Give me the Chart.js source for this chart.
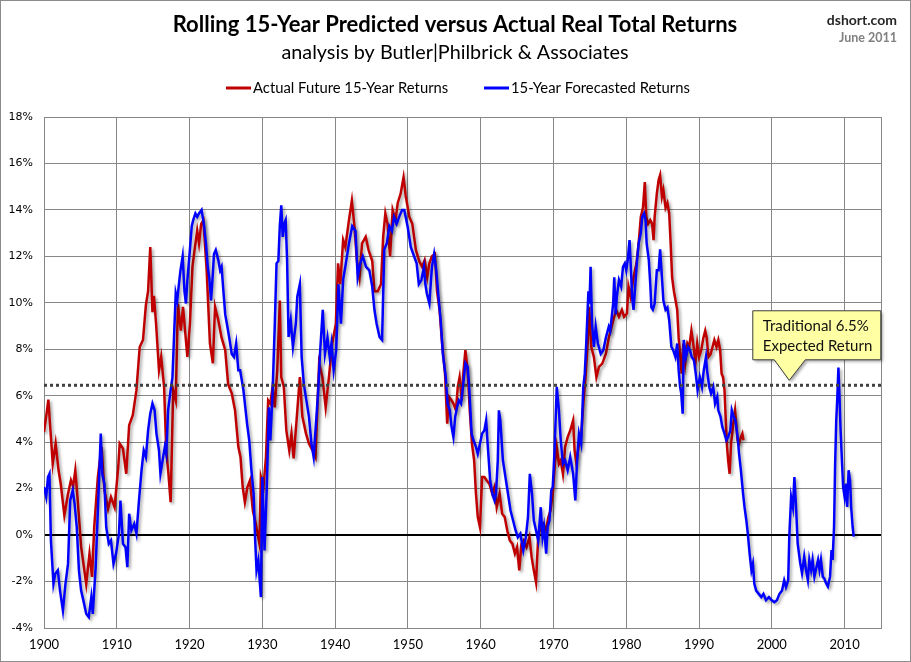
<!DOCTYPE html>
<html>
<head>
<meta charset="utf-8">
<script src="https://cdn.jsdelivr.net/npm/chart.js@4"></script>
<style>
  html, body { margin: 0; padding: 0; background: #fff; }
  #wrap { width: 911px; height: 662px; }
</style>
</head>
<body>
<div id="wrap"><canvas id="returnsChart" width="911" height="662"></canvas></div>
<script>
// Rolling 15-year real total returns, in percent
const actualYears = [
  1900.0, 1900.3, 1900.6, 1900.8, 1901.0, 1901.2, 1901.6, 1902.0, 1902.3, 1902.8,
  1903.3, 1903.7, 1904.0, 1904.3, 1904.6, 1905.1, 1905.8, 1906.25, 1906.6, 1906.9,
  1907.4, 1907.9, 1908.3, 1908.8, 1909.2, 1909.7, 1910.2, 1910.4, 1910.85, 1911.3,
  1911.7, 1912.2, 1912.7, 1913.15, 1913.6, 1914.0, 1914.3, 1914.6, 1914.9, 1915.1,
  1915.4, 1915.8, 1916.1, 1916.5, 1916.8, 1917.1, 1917.4, 1917.75, 1918.1, 1918.4,
  1918.8, 1919.1, 1919.7, 1920.05, 1920.4, 1920.7, 1921.05, 1921.3, 1921.6, 1921.9,
  1922.35, 1922.8, 1923.2, 1923.5, 1923.95, 1924.4, 1924.9, 1925.3, 1925.8, 1926.25,
  1926.7, 1927.0, 1927.3, 1927.6, 1927.95, 1928.3, 1928.7, 1929.1, 1929.6, 1929.8,
  1930.15, 1930.5, 1930.8, 1931.1, 1931.4, 1931.7, 1932.05, 1932.4, 1932.6, 1932.95,
  1933.3, 1933.7, 1934.0, 1934.3, 1934.7, 1935.15, 1935.5, 1936.0, 1936.4, 1936.9,
  1937.3, 1937.8, 1938.25, 1938.7, 1939.15, 1939.6, 1940.1, 1940.4, 1940.7, 1941.1,
  1941.4, 1941.9, 1942.3, 1942.65, 1943.0, 1943.35, 1943.7, 1944.2, 1944.6, 1945.1,
  1945.4, 1945.85, 1946.3, 1946.6, 1946.9, 1947.2, 1947.55, 1947.9, 1948.3, 1948.6,
  1949.0, 1949.4, 1949.7, 1950.2, 1950.6, 1951.1, 1951.55, 1951.95, 1952.3, 1952.65,
  1952.95, 1953.3, 1953.7, 1954.0, 1954.35, 1954.7, 1955.1, 1955.4, 1955.65, 1956.0,
  1956.25, 1956.6, 1956.85, 1957.1, 1957.4, 1957.65, 1957.9, 1958.2, 1958.5, 1958.8,
  1959.1, 1959.35, 1959.6, 1959.9, 1960.2, 1960.5, 1960.8, 1961.2, 1961.6, 1961.9,
  1962.2, 1962.6, 1962.95, 1963.3, 1963.65, 1964.0, 1964.35, 1964.7, 1965.0, 1965.3,
  1965.6, 1965.9, 1966.3, 1966.7, 1967.0, 1967.3, 1967.6, 1967.9, 1968.2, 1968.6,
  1968.95, 1969.3, 1969.6, 1969.9, 1970.2, 1970.45, 1970.75, 1971.0, 1971.3, 1971.6,
  1971.95, 1972.3, 1972.7, 1972.9, 1973.15, 1973.5, 1973.8, 1974.1, 1974.4, 1974.7,
  1974.9, 1975.2, 1975.55, 1975.9, 1976.25, 1976.7, 1977.2, 1977.6, 1978.1, 1978.6,
  1979.0, 1979.4, 1979.7, 1980.1, 1980.3, 1980.6, 1981.0, 1981.4, 1981.7, 1982.0,
  1982.3, 1982.55, 1982.75, 1983.0, 1983.3, 1983.55, 1983.75, 1983.9, 1984.2, 1984.45,
  1984.65, 1984.9, 1985.1, 1985.4, 1985.65, 1985.9, 1986.1, 1986.3, 1986.55, 1986.85,
  1987.0, 1987.2, 1987.4, 1987.6, 1987.85, 1988.1, 1988.4, 1988.65, 1988.95, 1989.2,
  1989.5, 1989.75, 1990.0, 1990.3, 1990.6, 1990.85, 1991.05, 1991.3, 1991.6, 1991.85,
  1992.1, 1992.4, 1992.65, 1992.9, 1993.1, 1993.3, 1993.5, 1993.65, 1993.85, 1994.0,
  1994.2, 1994.4, 1994.6, 1994.75, 1994.95, 1995.1, 1995.3, 1995.5, 1995.75, 1995.95,
  1996.1
];
const actualReturns = [
  4.44, 5.1, 5.83, 4.9, 4.0, 3.07, 3.94, 2.79, 2.2, 0.85,
  1.78, 2.36, 2.1, 2.79, 1.64, -0.5, -2.1, -0.8, -1.8, 0.34,
  2.5, 3.8, 1.93, 1.13, 1.64, 1.2, 2.93, 3.94, 3.72, 2.64,
  4.73, 5.16, 6.24, 8.1, 8.4, 9.9, 10.5, 12.4, 9.6, 10.3,
  9.1, 7.1, 7.67, 6.38, 3.65, 2.64, 1.42, 6.24, 5.8, 9.97,
  8.8, 9.83, 7.67, 9.1, 11.55, 12.3, 13.1, 12.56, 13.4, 13.56,
  11.4, 8.25, 7.4, 9.83, 9.25, 8.5, 7.96, 6.5, 6.1, 5.37,
  3.8, 3.36, 2.07, 1.42, 2.07, 2.36, 1.06, 0.49, -0.37, 2.5,
  2.07, 3.36, 5.8, 5.66, 6.38, 5.5, 7.1, 10.1, 6.8, 6.38,
  4.5, 3.65, 4.37, 3.3, 4.94, 6.8, 5.1, 4.37, 3.94, 3.65,
  3.36, 7.4, 6.8, 5.5, 6.8, 8.25, 9.1, 11.7, 10.8, 12.7,
  12.4, 13.56, 14.4, 13.3, 11.8, 11.1, 12.56, 12.84, 12.27, 11.8,
  10.5, 10.5, 10.8, 12.84, 13.85, 13.4, 12.0, 14.0, 13.56, 14.3,
  14.7, 15.4, 14.6, 13.7, 13.4, 12.27, 11.8, 11.55, 11.84, 11.1,
  11.7, 12.0, 12.1, 10.5, 9.7, 8.25, 6.95, 4.8, 5.95, 5.8,
  5.66, 5.37, 6.38, 6.8, 5.8, 7.1, 7.96, 7.1, 5.37, 3.94,
  3.22, 1.78, 0.78, 0.34, 2.5, 2.5, 2.36, 2.2, 1.78, 2.07,
  1.2, 1.78, 0.92, 0.78, 0.2, -0.23, -0.37, -0.8, -0.52, -1.52,
  -0.37, -0.23, -0.52, -0.09, -0.95, -1.52, -2.03, -0.09, 0.34, 0.49,
  0.2, 0.78, 1.06, 1.78, 3.07, 3.8, 3.07, 3.22, 2.64, 3.8,
  4.22, 4.5, 4.94, 3.65, 3.07, 3.94, 4.22, 5.66, 6.8, 8.25,
  9.83, 8.1, 7.67, 6.8, 7.24, 7.38, 7.8, 8.5, 9.1, 9.7,
  9.4, 9.7, 9.4, 9.54, 10.7, 10.26, 11.1, 11.7, 12.56, 13.7,
  14.1, 15.2, 13.7, 13.4, 13.56, 13.4, 12.7, 13.7, 14.7, 15.3,
  15.5, 14.57, 14.86, 14.1, 14.3, 13.85, 12.56, 11.1, 10.5, 9.97,
  9.7, 8.5, 7.8, 6.95, 8.25, 7.4, 8.25, 8.1, 8.8, 8.25,
  7.4, 8.25, 7.67, 7.96, 8.5, 8.8, 8.5, 7.67, 7.8, 8.1,
  8.4, 8.1, 8.4, 7.96, 6.95, 6.8, 6.24, 5.1, 3.8, 3.22,
  2.64, 3.94, 4.5, 4.94, 5.37, 4.8, 4.08, 3.94, 4.22, 4.37,
  4.08
];

const forecastYears = [
  1900.0, 1900.3, 1900.55, 1900.75, 1900.95, 1901.3, 1901.55, 1901.9, 1902.2, 1902.6,
  1902.95, 1903.3, 1903.6, 1903.95, 1904.2, 1904.5, 1904.8, 1905.1, 1905.4, 1905.8,
  1906.15, 1906.5, 1906.7, 1907.1, 1907.4, 1907.8, 1908.0, 1908.3, 1908.55, 1908.9,
  1909.2, 1909.55, 1909.9, 1910.3, 1910.5, 1910.85, 1911.2, 1911.45, 1911.7, 1912.0,
  1912.4, 1912.7, 1913.05, 1913.4, 1913.7, 1914.0, 1914.3, 1914.6, 1914.9, 1915.2,
  1915.45, 1915.8, 1916.0, 1916.3, 1916.6, 1916.8, 1917.05, 1917.4, 1917.65, 1917.9,
  1918.1, 1918.3, 1918.6, 1918.75, 1919.05, 1919.3, 1919.5, 1919.7, 1920.05, 1920.3,
  1920.5, 1920.8, 1921.05, 1921.3, 1921.65, 1922.0, 1922.25, 1922.5, 1922.7, 1922.95,
  1923.2, 1923.35, 1923.6, 1923.95, 1924.2, 1924.4, 1924.65, 1924.9, 1925.2, 1925.5,
  1925.8, 1926.1, 1926.4, 1926.7, 1926.95, 1927.4, 1927.9, 1928.2, 1928.5, 1928.8,
  1929.0, 1929.2, 1929.45, 1929.8, 1930.0, 1930.3, 1930.6, 1930.9, 1931.1, 1931.4,
  1931.7, 1931.95, 1932.2, 1932.4, 1932.6, 1932.8, 1933.0, 1933.2, 1933.4, 1933.6,
  1933.9, 1934.2, 1934.6, 1934.8, 1935.15, 1935.4, 1935.7, 1936.05, 1936.4, 1936.75,
  1937.05, 1937.3, 1937.65, 1937.95, 1938.3, 1938.6, 1938.95, 1939.25, 1939.5, 1939.8,
  1940.15, 1940.45, 1940.8, 1941.1, 1941.4, 1941.9, 1942.35, 1942.8, 1943.1, 1943.45,
  1943.8, 1944.25, 1944.7, 1945.1, 1945.4, 1945.7, 1946.1, 1946.45, 1946.75, 1947.1,
  1947.45, 1947.8, 1948.1, 1948.45, 1948.8, 1949.2, 1949.5, 1949.95, 1950.4, 1950.85,
  1951.2, 1951.5, 1951.85, 1952.2, 1952.4, 1952.6, 1952.95, 1953.3, 1953.6, 1953.9,
  1954.2, 1954.5, 1954.8, 1955.2, 1955.45, 1955.75, 1956.0, 1956.25, 1956.5, 1956.75,
  1957.0, 1957.3, 1957.6, 1957.9, 1958.2, 1958.4, 1958.75, 1959.0, 1959.35, 1959.6,
  1959.9, 1960.2, 1960.5, 1960.75, 1960.95, 1961.3, 1961.6, 1961.9, 1962.1, 1962.35,
  1962.5, 1962.7, 1963.05, 1963.4, 1963.75, 1964.1, 1964.45, 1964.8, 1965.1, 1965.45,
  1965.85, 1966.2, 1966.5, 1966.75, 1967.05, 1967.3, 1967.6, 1967.9, 1968.25, 1968.5,
  1968.7, 1969.0, 1969.2, 1969.45, 1969.7, 1969.9, 1970.15, 1970.45, 1970.75, 1971.0,
  1971.3, 1971.6, 1971.95, 1972.3, 1972.7, 1973.0, 1973.25, 1973.5, 1973.8, 1974.1,
  1974.3, 1974.5, 1974.8, 1974.95, 1975.1, 1975.3, 1975.55, 1975.8, 1976.1, 1976.5,
  1976.85, 1977.2, 1977.6, 1977.8, 1978.2, 1978.35, 1978.55, 1978.7, 1979.0, 1979.3,
  1979.55, 1979.8, 1980.0, 1980.2, 1980.45, 1980.65, 1980.8, 1981.0, 1981.25, 1981.45,
  1981.7, 1982.0, 1982.2, 1982.45, 1982.65, 1982.8, 1983.1, 1983.3, 1983.45, 1983.65,
  1983.9, 1984.2, 1984.45, 1984.65, 1984.9, 1985.1, 1985.4, 1985.65, 1985.9, 1986.2,
  1986.45, 1986.75, 1987.0, 1987.2, 1987.4, 1987.55, 1987.75, 1987.9, 1988.2, 1988.5,
  1988.75, 1989.0, 1989.3, 1989.55, 1989.8, 1990.1, 1990.4, 1990.65, 1990.95, 1991.1,
  1991.4, 1991.65, 1991.95, 1992.2, 1992.5, 1992.65, 1992.95, 1993.2, 1993.5, 1993.75,
  1994.0, 1994.3, 1994.5, 1994.75, 1995.0, 1995.3, 1995.5, 1995.75, 1996.05, 1996.25,
  1996.5, 1996.7, 1996.95, 1997.2, 1997.4, 1997.6, 1997.85, 1998.2, 1998.55, 1998.85,
  1999.2, 1999.6, 1999.95, 2000.35, 2000.7, 2001.05, 2001.4, 2001.7, 2001.95, 2002.25,
  2002.4, 2002.65, 2002.9, 2003.1, 2003.35, 2003.55, 2003.9, 2004.15, 2004.45, 2004.7,
  2004.95, 2005.15, 2005.4, 2005.6, 2005.85, 2006.05, 2006.35, 2006.55, 2006.75, 2007.0,
  2007.2, 2007.45, 2007.7, 2008.0, 2008.2, 2008.35, 2008.55, 2008.7, 2008.85, 2009.0,
  2009.15, 2009.3, 2009.45, 2009.65, 2009.8, 2010.0, 2010.2, 2010.35, 2010.55, 2010.75,
  2010.9, 2011.1, 2011.25
];
const forecastReturns = [
  2.07, 1.64, 2.5, 2.64, -0.23, -2.1, -1.67, -1.52, -2.39, -3.25,
  -2.1, -1.24, 1.49, 1.93, 1.35, 0.34, -1.52, -2.39, -2.8, -3.39,
  -3.53, -2.67, -3.39, -1.38, 1.06, 4.37, 2.64, 2.2, 0.34, -0.37,
  -0.23, -1.24, -0.8, 0.06, 1.49, -0.37, -0.52, -1.38, 0.92, 0.2,
  0.49, 0.06, 1.49, 2.79, 3.65, 3.36, 4.5, 5.23, 5.66, 5.37,
  4.37, 3.65, 2.64, 3.22, 3.8, 3.5, 5.37, 6.24, 6.8, 8.8,
  10.4, 10.1, 10.98, 11.4, 12.0, 10.5, 9.97, 10.98, 12.3, 13.3,
  13.56, 13.85, 13.7, 13.85, 14.0, 13.3, 12.56, 11.55, 11.1, 10.1,
  11.26, 12.1, 12.27, 11.84, 11.4, 11.55, 10.5, 9.5, 8.97, 8.4,
  7.8, 7.67, 8.25, 7.1, 7.1, 6.24, 4.8, 4.08, 2.79, 1.78,
  -0.09, -1.52, -1.09, -2.67, 2.5, -0.66, 1.93, 5.5, 4.08, 6.1,
  8.97, 11.7, 11.8, 13.3, 14.2, 12.84, 13.4, 13.56, 11.84, 8.53,
  9.25, 8.1, 9.1, 10.26, 10.8, 7.67, 6.5, 5.8, 5.1, 3.94,
  3.36, 4.5, 6.1, 7.96, 9.7, 7.8, 8.5, 7.67, 8.25, 7.1,
  7.96, 10.8, 9.1, 11.0, 11.55, 12.56, 13.3, 13.1, 11.1, 11.7,
  12.0, 11.55, 11.4, 10.7, 9.7, 9.1, 8.53, 8.4, 12.3, 12.56,
  13.3, 13.1, 13.7, 13.4, 13.7, 14.0, 14.0, 13.3, 12.4, 12.0,
  11.7, 10.8, 10.98, 11.55, 10.8, 10.4, 9.97, 11.55, 12.1, 11.4,
  10.26, 9.25, 7.8, 6.8, 5.66, 5.37, 4.66, 4.22, 5.1, 5.5,
  5.8, 5.66, 6.5, 7.4, 7.24, 6.5, 4.37, 4.08, 3.8, 3.5,
  3.94, 4.37, 4.5, 4.94, 3.94, 2.36, 1.78, 1.49, 1.78, 3.22,
  5.37, 4.94, 3.22, 2.5, 1.78, 1.06, 0.63, 0.2, -0.09, 0.06,
  -0.66, -0.09, 0.78, 2.64, 1.78, 0.63, 0.2, -0.23, 1.2, -0.09,
  0.34, -0.8, 0.34, 0.63, 1.93, 2.07, 3.65, 6.38, 5.37, 4.08,
  3.07, 3.22, 2.79, 3.36, 2.64, 1.49, 3.22, 4.37, 3.94, 6.38,
  6.95, 8.25, 10.5, 9.97, 11.55, 9.1, 8.1, 8.97, 8.25, 7.8,
  7.96, 8.5, 8.97, 8.8, 9.97, 11.1, 9.5, 10.26, 10.98, 10.7,
  11.55, 11.7, 11.4, 11.84, 12.7, 11.4, 10.26, 9.7, 10.8, 11.7,
  12.56, 13.0, 13.7, 13.85, 13.56, 12.56, 11.84, 10.8, 9.8, 9.7,
  9.97, 11.4, 11.4, 12.3, 11.1, 10.1, 9.7, 9.8, 9.25, 8.1,
  7.96, 7.67, 8.25, 7.1, 6.38, 6.1, 5.23, 8.4, 7.67, 8.1,
  7.96, 7.67, 7.53, 6.95, 6.24, 6.8, 6.38, 7.1, 7.67, 7.1,
  6.38, 6.1, 6.38, 5.66, 5.95, 5.37, 5.1, 4.66, 4.37, 4.08,
  4.22, 4.5, 5.37, 5.1, 4.94, 4.22, 3.5, 2.79, 1.78, 1.2,
  0.63, 0.06, -0.8, -1.52, -1.24, -2.1, -2.39, -2.53, -2.67, -2.53,
  -2.8, -2.67, -2.8, -2.89, -2.8, -2.53, -2.39, -1.95, -2.24, -1.95,
  -0.07, 1.64, 1.2, 2.5, 1.07, -0.36, -1.2, -1.64, -0.93, -1.5,
  -1.93, -1.07, -1.5, -1.07, -1.79, -1.5, -1.07, -1.5, -1.07, -1.79,
  -1.86, -2.07, -2.21, -1.79, -0.64, -1.07, 0.36, 3.07, 4.93, 5.93,
  7.21, 5.93, 4.5, 3.07, 2.07, 1.64, 2.21, 1.21, 2.79, 2.36,
  1.21, 0.36, -0.07
];

const traditionalReturn = 6.45;
const xTickYears = [1900, 1910, 1920, 1930, 1940, 1950, 1960, 1970, 1980, 1990, 2000, 2010];
const yTickValues = [-4, -2, 0, 2, 4, 6, 8, 10, 12, 14, 16, 18];
const xRange = [1900, 2015];

const titleText = 'Rolling 15-Year Predicted versus Actual Real Total Returns';
const subtitleText = 'analysis by Butler|Philbrick & Associates';
const sourceText = 'dshort.com';
const dateText = 'June 2011';
const calloutLines = ['Traditional 6.5%', 'Expected Return'];

const actualColor = '#C00000';
const forecastColor = '#0000FF';
const gridColor = '#878787';
const calibriLike = 'Lato, "Open Sans", sans-serif';

const toPoints = (xs, ys) => xs.map((x, i) => ({ x: x, y: ys[i] }));

// soft drop shadow under the two return lines, like the original
const lineShadow = {
    id: 'lineShadow',
    beforeDatasetDraw(chart, args) {
        const ds = chart.data.datasets[args.index];
        const ctx = chart.ctx;
        ctx.save();
        if (ds.shadow) {
            ctx.shadowColor = 'rgba(0, 0, 0, 0.35)';
            ctx.shadowBlur = 3;
            ctx.shadowOffsetX = 2;
            ctx.shadowOffsetY = 2;
        }
    },
    afterDatasetDraw(chart) {
        chart.ctx.restore();
    }
};

const decorations = {
    id: 'decorations',
    beforeDraw(chart) {
        const ctx = chart.ctx;
        ctx.save();
        ctx.fillStyle = '#fff';
        ctx.fillRect(0, 0, chart.width, chart.height);
        ctx.restore();
    },
    beforeDatasetsDraw(chart) {
        const { ctx, chartArea: a } = chart;
        ctx.save();
        ctx.strokeStyle = gridColor;
        ctx.lineWidth = 1;
        ctx.strokeRect(Math.round(a.left) + 0.5, Math.round(a.top) + 0.5,
            Math.round(a.right - a.left), Math.round(a.bottom - a.top));
        ctx.restore();
    },
    afterDraw(chart) {
        const ctx = chart.ctx;
        const w = chart.width;
        ctx.save();

        // outer frame
        ctx.strokeStyle = '#8c8c8c';
        ctx.lineWidth = 1;
        ctx.strokeRect(0.5, 0.5, w - 1, chart.height - 1);

        // header
        ctx.textBaseline = 'middle';
        ctx.textAlign = 'center';
        ctx.fillStyle = '#000';
        ctx.font = 'bold 22px ' + calibriLike;
        ctx.fillText(titleText, 455, 25);
        ctx.font = '19.8px ' + calibriLike;
        ctx.fillText(subtitleText, 455, 53);

        ctx.textAlign = 'right';
        ctx.font = 'bold 14px ' + calibriLike;
        ctx.fillStyle = '#262626';
        ctx.fillText(sourceText, 897, 20);
        ctx.font = 'bold 12.5px ' + calibriLike;
        ctx.fillStyle = '#808080';
        ctx.fillText(dateText, 897, 38);

        // legend
        ctx.textAlign = 'left';
        ctx.font = '14.8px ' + calibriLike;
        const legendItems = [
            { color: actualColor, label: chart.data.datasets[0].label, x: 226 },
            { color: forecastColor, label: chart.data.datasets[1].label, x: 484 }
        ];
        legendItems.forEach(item => {
            ctx.strokeStyle = item.color;
            ctx.lineWidth = 3;
            ctx.beginPath();
            ctx.moveTo(item.x, 88);
            ctx.lineTo(item.x + 25, 88);
            ctx.stroke();
            ctx.fillStyle = '#000';
            ctx.fillText(item.label, item.x + 27, 88);
        });

        // callout pointing at the 6.5% line
        const xs = chart.scales.x, ys = chart.scales.y;
        const tipX = xs.getPixelForValue(2002.4);
        const tipY = ys.getPixelForValue(traditionalReturn) - 5;
        const boxL = tipX - 36.5, boxR = tipX + 91.5;
        const boxT = tipY - 69.5, boxB = tipY - 20.5;
        const shape = () => {
            ctx.beginPath();
            ctx.moveTo(boxL, boxT);
            ctx.lineTo(boxR, boxT);
            ctx.lineTo(boxR, boxB);
            ctx.lineTo(tipX + 16, boxB);
            ctx.lineTo(tipX, tipY);
            ctx.lineTo(tipX - 15, boxB);
            ctx.lineTo(boxL, boxB);
            ctx.closePath();
        };
        ctx.save();
        ctx.shadowColor = 'rgba(0, 0, 0, 0.35)';
        ctx.shadowBlur = 3;
        ctx.shadowOffsetX = 2;
        ctx.shadowOffsetY = 2;
        ctx.fillStyle = '#FFFFA3';
        shape();
        ctx.fill();
        ctx.restore();
        ctx.strokeStyle = '#3f3f3f';
        ctx.lineWidth = 1;
        shape();
        ctx.stroke();
        ctx.fillStyle = '#111';
        ctx.font = '15px ' + calibriLike;
        ctx.textAlign = 'left';
        ctx.fillText(calloutLines[0], boxL + 10, boxT + 15);
        ctx.fillText(calloutLines[1], boxL + 10, boxT + 35);

        ctx.restore();
    }
};

const ctx = document.getElementById('returnsChart').getContext('2d');
const returnsChart = new Chart(ctx, {
    type: 'line',
    data: {
        datasets: [
            { label: 'Actual Future 15-Year Returns', data: toPoints(actualYears, actualReturns), borderColor: actualColor, borderWidth: 2.5, pointRadius: 0, tension: 0, order: 2, shadow: true },
            { label: '15-Year Forecasted Returns', data: toPoints(forecastYears, forecastReturns), borderColor: forecastColor, borderWidth: 2.5, pointRadius: 0, tension: 0, order: 1, shadow: true },
            { label: 'Traditional 6.5% Expected Return', data: toPoints(xRange, [traditionalReturn, traditionalReturn]), borderColor: '#404040', borderWidth: 3, borderDash: [3, 3], borderCapStyle: 'butt', pointRadius: 0, order: 0 }
        ]
    },
    options: {
        responsive: false,
        animation: false,
        layout: { padding: { top: 117, right: 30, bottom: 0, left: 0 } },
        plugins: {
            legend: { display: false },
            tooltip: { enabled: false }
        },
        scales: {
            x: {
                type: 'linear', min: xRange[0], max: xRange[1],
                afterBuildTicks: scale => { scale.ticks = xTickYears.map(v => ({ value: v })); },
                afterFit: scale => { scale.height = 34; },
                grid: { color: gridColor, drawTicks: false },
                border: { color: gridColor },
                ticks: { color: '#000', padding: 9, maxRotation: 0, font: { family: calibriLike, size: 13 }, callback: v => String(v) }
            },
            y: {
                min: yTickValues[0], max: yTickValues[yTickValues.length - 1],
                afterBuildTicks: scale => { scale.ticks = yTickValues.map(v => ({ value: v })); },
                afterFit: scale => { scale.width = 44; },
                grid: {
                    drawTicks: false,
                    color: c => c.tick && c.tick.value === 0 ? '#000' : gridColor,
                    lineWidth: c => c.tick && c.tick.value === 0 ? 2 : 1
                },
                border: { color: gridColor },
                ticks: { color: '#000', padding: 11, font: { family: '"DejaVu Sans", sans-serif', size: 11 }, callback: v => v + '%' }
            }
        }
    },
    plugins: [lineShadow, decorations]
});
</script>
</body>
</html>
